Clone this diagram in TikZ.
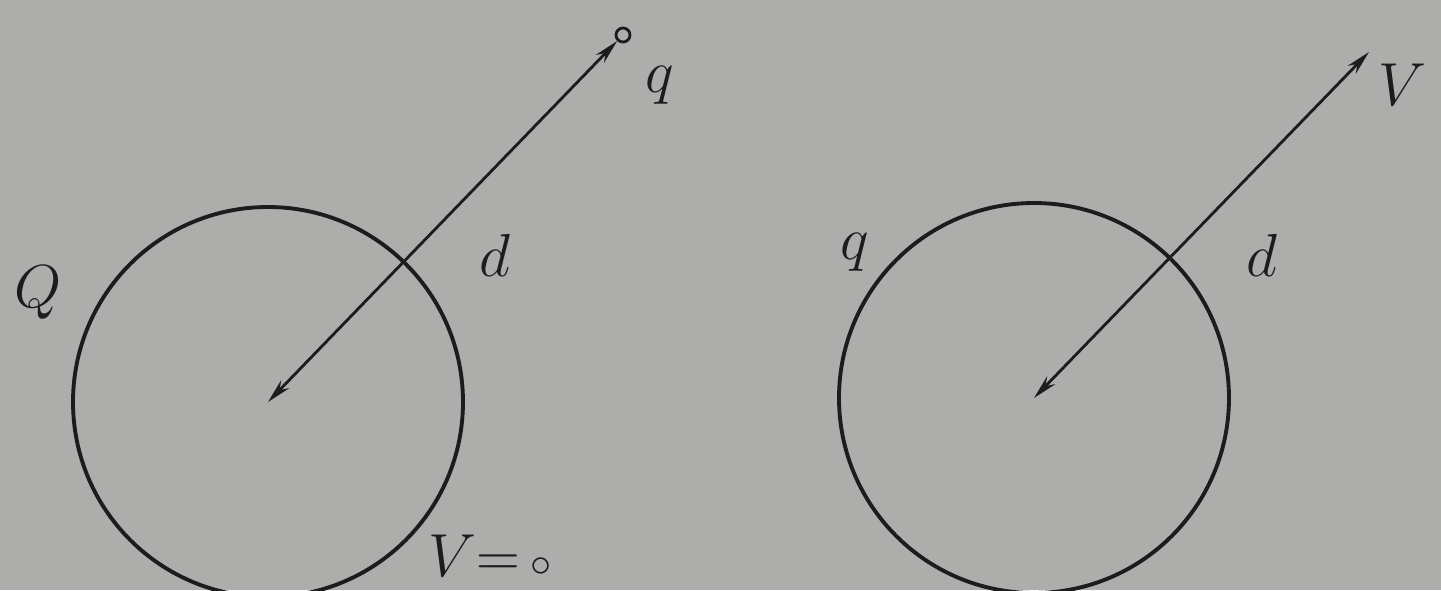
\documentclass[tikz,border=0pt]{standalone}
\usepackage{amsmath,amssymb}
\usepackage{tikz}
\usetikzlibrary{arrows.meta,positioning,calc}
\definecolor{paper}{RGB}{173,173,171}
\definecolor{ink}{RGB}{28,28,28}
\begin{document}
\begin{tikzpicture}[x=0.01cm,y=0.01cm,
  every node/.style={text=ink,font=\fontsize{18}{21}\selectfont},
  sphere/.style={draw=ink,line width=1.1pt},
  rod/.style={draw=ink,line width=0.8pt,{Stealth[length=7pt,width=3.2pt]}-{Stealth[length=7pt,width=3.2pt]}},
  charge/.style={circle,draw=ink,line width=0.8pt,inner sep=0pt,minimum size=0.14cm}]
  \fill[paper] (0,0) rectangle (1441,590); % 背景
  \useasboundingbox (0,0) rectangle (1441,590);
  \def\R{195} % 球の半径
  % 左の図
  \coordinate (Oa) at (268,188); % 球の中心
  \draw[sphere] (Oa) circle (\R);
  \node[charge] (qa) at (623,555) {}; % 点電荷
  \draw[rod] (Oa) -- (qa);
  \node (qlab) at (660,505) {$q$};
  \node (da) at (495,335) {$d$};
  \node (Qa) at (38,297) {$Q$};
  \node (Va) at (490,34) {$V{=}\,{\scriptstyle\circ}$};
  % 右の図
  \coordinate (Ob) at (1034,192);
  \draw[sphere] (Ob) circle (\R);
  \coordinate (tipb) at (1369,538); % 矢印の先
  \draw[rod] (Ob) -- (tipb);
  \node (Vb) at (1402,505) {$V$};
  \node (qb) at (855,338) {$q$};
  \node (db) at (1262,335) {$d$};
\end{tikzpicture}
\end{document}
